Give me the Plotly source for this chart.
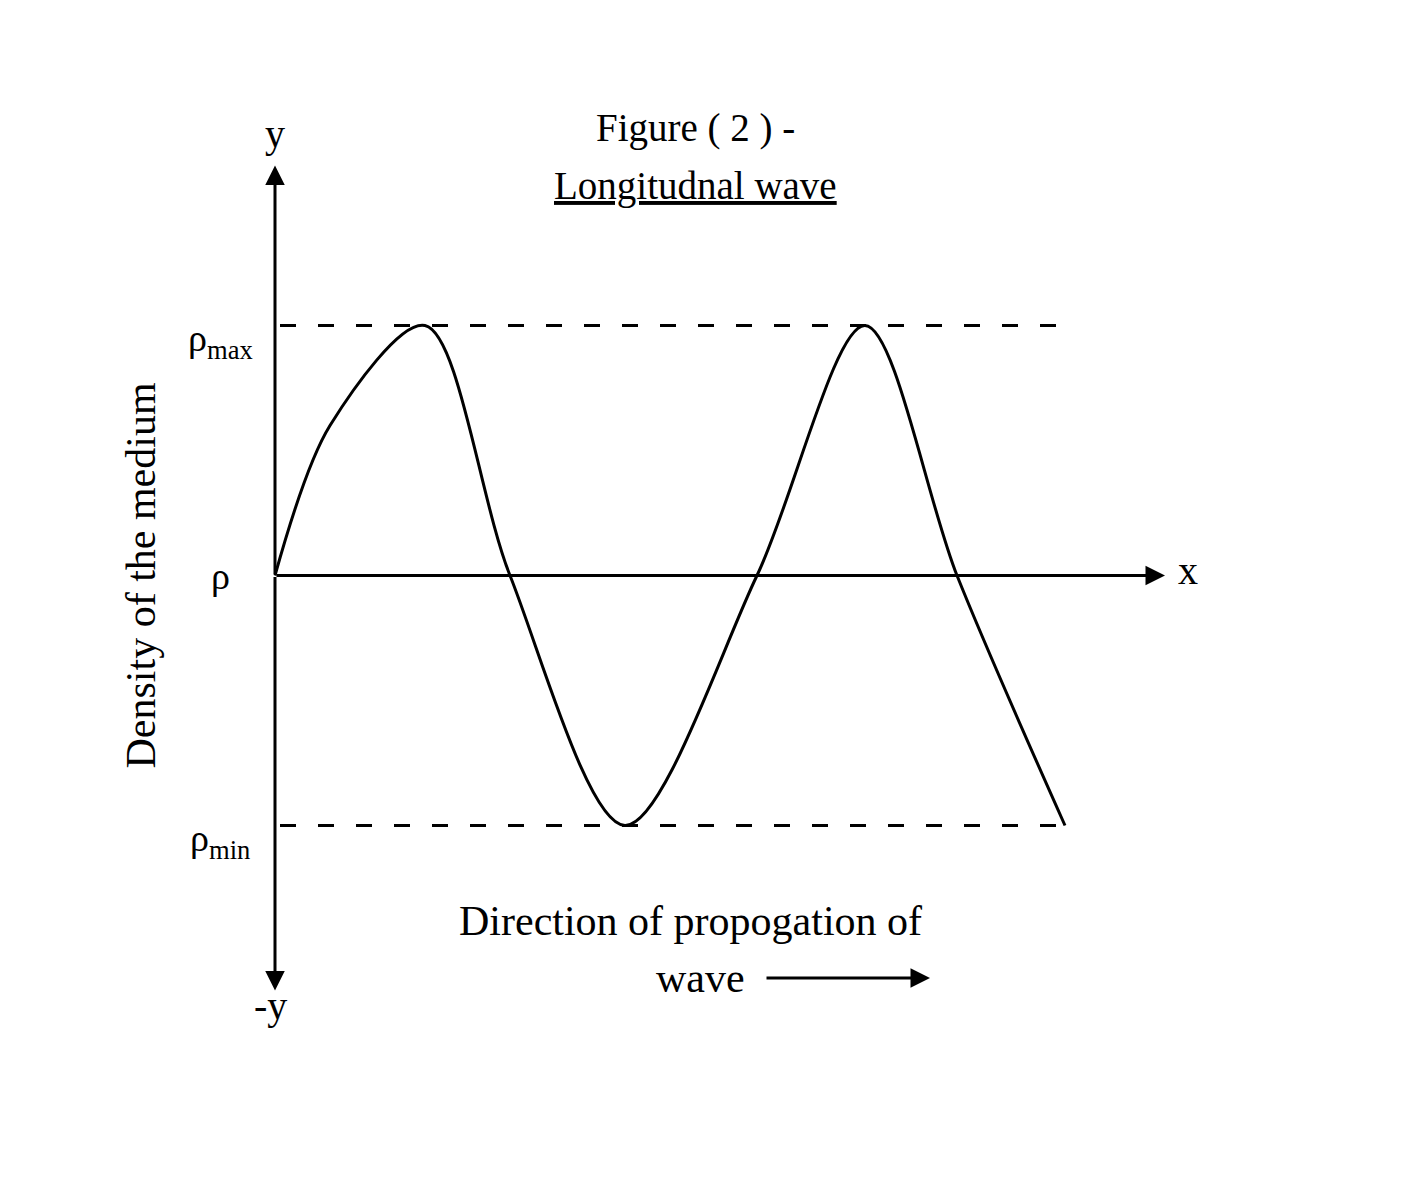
import plotly.graph_objects as go

# wave curve (x in arbitrary units, y: density relative to rho; +1 = rho_max, -1 = rho_min)
wave_x = [0, 0.55, 1.5, 2.35, 3.5, 4.82, 5.9, 6.82, 7.9]
wave_y = [0, 0.6, 1, 0, -1, 0, 1, 0, -1]
level_labels = ["ρ<sub>max</sub>", "ρ", "ρ<sub>min</sub>"]
level_values = [1, 0, -1]

F = "Liberation Serif, Times New Roman, serif"
fig = go.Figure()
for lv in [1, -1]:
    fig.add_trace(go.Scatter(x=[0.05, 7.95], y=[lv, lv], mode="lines",
                             line=dict(color="black", width=3, dash="16px,22px"), hoverinfo="skip"))
fig.add_trace(go.Scatter(x=wave_x, y=wave_y, mode="lines",
                         line=dict(color="black", width=3, shape="spline", smoothing=0.9)))

ann = []
def arrow(x0, y0, x1, y1):
    ann.append(dict(x=x1, y=y1, ax=x0, ay=y0, xref="x", yref="y", axref="x", ayref="y",
                    showarrow=True, arrowhead=2, arrowsize=1.3, arrowwidth=3, arrowcolor="black", text=""))
arrow(0, 0, 0, 1.64)
arrow(0, 0, 0, -1.66)
arrow(0, 0, 8.9, 0)
arrow(4.9, -1.61, 6.55, -1.61)

def txt(x, y, t, size=40, **kw):
    ann.append(dict(x=x, y=y, xref="x", yref="y", text=t, showarrow=False,
                    font=dict(family=F, size=size, color="black"), **kw))
for lab, v in zip(level_labels, level_values):
    txt(-0.55, v - (0.06 if v != 0 else 0), lab, size=38)
txt(0, 1.77, "y")
txt(-0.05, -1.72, "-y")
txt(9.13, 0.02, "x")
txt(4.2, 1.79, "Figure ( 2 ) -", size=39)
txt(4.2, 1.56, "<u>Longitudnal wave</u>", size=39)
txt(4.15, -1.38, "Direction of propogation of", size=42)
txt(4.25, -1.61, "wave", size=42)
txt(-1.35, 0, "Density of the medium", size=42, textangle=-90)
fig.update_layout(annotations=ann)

fig.update_layout(width=1421, height=1200, margin=dict(l=0, r=0, t=0, b=0),
                  plot_bgcolor="white", paper_bgcolor="white", showlegend=False,
                  xaxis=dict(range=[-2.67, 11.54], visible=False),
                  yaxis=dict(range=[-2.53, 2.27], visible=False))
fig.write_html("out.html")
